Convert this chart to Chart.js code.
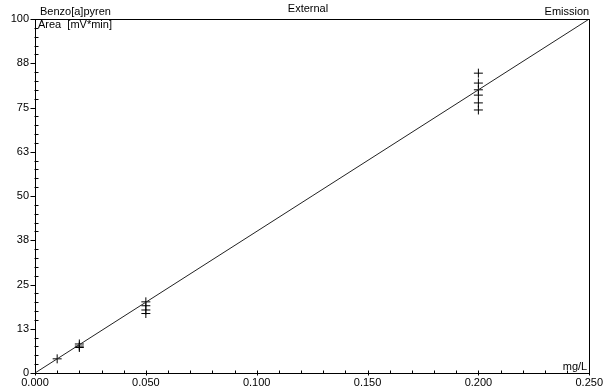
<!DOCTYPE html>
<html>
<head>
<meta charset="utf-8">
<script src="https://cdn.jsdelivr.net/npm/chart.js@4"></script>
<style>
  html, body { margin: 0; padding: 0; background: #fff; }
  #wrap { width: 606px; height: 387px; }
</style>
</head>
<body>
<div id="wrap"><canvas id="calib"></canvas></div>
<script>
// Kalibrierpunkte (Konzentration mg/L, Fläche mV*min)
const concX = [0.010, 0.020, 0.020, 0.020, 0.050, 0.050, 0.050, 0.050,
               0.200, 0.200, 0.200, 0.200, 0.200, 0.200];
const areaY = [4.0, 8.2, 7.6, 7.2, 20.1, 19.0, 17.8, 16.8,
               84.7, 81.9, 80.0, 78.5, 76.3, 74.3];

// Regressionsgerade
const lineX = [0.000, 0.250];
const lineY = [0, 100];

// Achsenbeschriftungen
const xTickLabels = ["0.000", "0.050", "0.100", "0.150", "0.200", "0.250"];
const yTickLabels = ["0", "13", "25", "38", "50", "63", "75", "88", "100"];

const FONT = "'Liberation Sans', Arial, sans-serif";

// Rahmen, Nebenstriche und Texte
const framePlugin = {
  id: "frame",
  afterDraw(chart) {
    const ctx = chart.ctx;
    const a = chart.chartArea;
    const xs = chart.scales.x;
    const ys = chart.scales.y;
    ctx.save();
    ctx.strokeStyle = "#000";
    ctx.lineWidth = 1;
    ctx.strokeRect(Math.round(a.left) + 0.5, Math.round(a.top) + 0.5,
      Math.round(a.right - a.left), Math.round(a.bottom - a.top));

    ctx.beginPath();
    // y: Hauptstriche nach aussen, Nebenstriche kurz
    for (let v = 0; v <= 100.001; v += 2.5) {
      const py = Math.round(ys.getPixelForValue(v)) + 0.5;
      const major = Math.abs(v / 12.5 - Math.round(v / 12.5)) < 1e-6;
      const x0 = Math.round(a.left) + 0.5;
      if (major) {
        ctx.moveTo(x0 - 5, py); ctx.lineTo(x0, py);
      } else {
        ctx.moveTo(x0 - 1, py); ctx.lineTo(x0 + 3, py);
      }
    }
    // x: Striche nach innen
    for (let v = 0; v <= 0.2501; v += 0.01) {
      const px = Math.round(xs.getPixelForValue(v)) + 0.5;
      const major = Math.abs(v / 0.05 - Math.round(v / 0.05)) < 1e-6;
      const y0 = Math.round(a.bottom) + 0.5;
      ctx.moveTo(px, y0 + (major ? 2 : 0));
      ctx.lineTo(px, y0 - 3);
    }
    ctx.stroke();

    ctx.fillStyle = "#000";
    ctx.font = "11px " + FONT;
    ctx.textBaseline = "alphabetic";
    ctx.textAlign = "left";
    ctx.fillText("Benzo[a]pyren", a.left + 5, a.top - 4);
    ctx.fillText("Area  [mV*min]", a.left + 3, a.top + 9);
    ctx.textAlign = "center";
    ctx.fillText("External", 308, a.top - 7);
    ctx.textAlign = "right";
    ctx.fillText("Emission", a.right, a.top - 4);
    ctx.fillText("mg/L", a.right - 2, a.bottom - 3);
    ctx.restore();
  },
};

const points = concX.map((x, i) => ({ x: x, y: areaY[i] }));
const linePts = lineX.map((x, i) => ({ x: x, y: lineY[i] }));

new Chart(document.getElementById("calib"), {
  type: "scatter",
  data: {
    datasets: [
      {
        data: linePts,
        showLine: true,
        borderColor: "#222",
        borderWidth: 1,
        pointRadius: 0,
        fill: false,
      },
      {
        data: points,
        pointStyle: "cross",
        pointRadius: 4.5,
        borderColor: "#000",
        borderWidth: 1,
        backgroundColor: "#000",
      },
    ],
  },
  options: {
    responsive: true,
    maintainAspectRatio: false,
    animation: false,
    layout: { padding: { top: 19, right: 15, left: 0, bottom: 0 } },
    plugins: {
      legend: { display: false },
      tooltip: { enabled: false },
    },
    scales: {
      x: {
        type: "linear",
        min: 0,
        max: 0.25,
        grid: { display: false, drawTicks: false },
        border: { display: false },
        afterFit(scale) { scale.height = 14; },
        ticks: {
          stepSize: 0.05,
          padding: 3,
          color: "#000",
          font: { family: FONT, size: 11 },
          maxRotation: 0,
          callback: (v, i) => xTickLabels[i],
        },
      },
      y: {
        min: 0,
        max: 100,
        grid: { display: false, drawTicks: false },
        border: { display: false },
        afterFit(scale) { scale.width = 35; },
        ticks: {
          stepSize: 12.5,
          padding: 6,
          color: "#000",
          font: { family: FONT, size: 11 },
          callback: (v, i) => yTickLabels[i],
        },
      },
    },
  },
  plugins: [framePlugin],
});
</script>
</body>
</html>
